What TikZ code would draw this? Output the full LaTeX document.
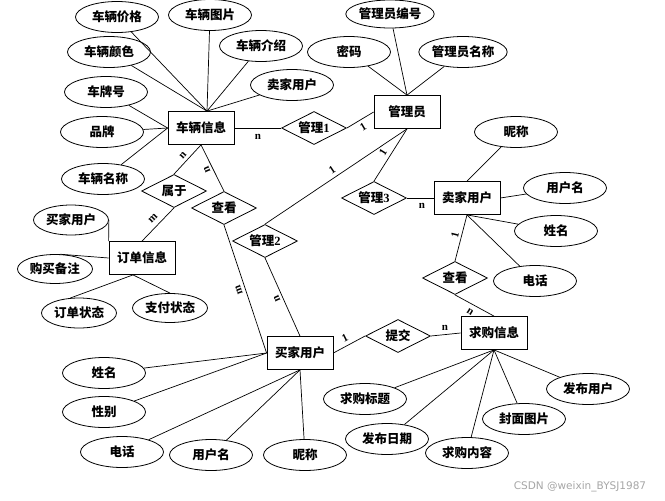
\documentclass[tikz,border=0pt]{standalone}
\usepackage{fontspec}
\setmainfont{Liberation Serif}
\newfontfamily\cjk{Noto Sans CJK SC}
\newfontfamily\wmfont{DejaVu Sans}
\usetikzlibrary{shapes.geometric}
\tikzset{
  ent/.style={draw, line width=0.8pt, rectangle, minimum width=66pt, minimum height=33pt, inner sep=0pt, font=\cjk\bfseries\fontsize{12.5}{14}\selectfont},
  rel/.style={draw, line width=0.8pt, diamond, aspect=2, minimum width=65pt, minimum height=33pt, inner sep=0pt, font=\cjk\bfseries\fontsize{12.5}{14}\selectfont},
  attr/.style={draw, line width=0.8pt, ellipse, minimum width=83pt, minimum height=31pt, inner sep=0pt, font=\cjk\bfseries\fontsize{12.5}{14}\selectfont},
  sattr/.style={attr, minimum width=75pt, minimum height=30pt},
  card/.style={font=\bfseries\fontsize{11}{12}\selectfont, inner sep=0pt},
  conn/.style={line width=0.7pt},
}
\begin{document}
\begin{tikzpicture}[x=1pt,y=-1pt]
\useasboundingbox (0,0) rectangle (665,501);
% entities
\node[ent] (clxx) at (201,128) {车辆信息};
\node[ent] (gly) at (407,112) {管理员};
\node[ent] (mjyh) at (467,198) {卖家用户};
\node[ent] (ddxx) at (142,258) {订单信息};
\node[ent] (bjyh) at (300,353) {买家用户};
\node[ent] (qgxx) at (494,333) {求购信息};
% relations
\node[rel] (gl1) at (314,128) {管理{\rmfamily 1}};
\node[rel] (sy) at (174,191) {属于};
\node[rel] (ckA) at (224,208) {查看};
\node[rel] (gl2) at (265,241) {管理{\rmfamily 2}};
\node[rel] (gl3) at (374,198) {管理{\rmfamily 3}};
\node[rel] (ckB) at (455,278) {查看};
\node[rel] (tj) at (398,336) {提交};
% attributes of 车辆信息
\node[attr] (a1) at (117,17) {车辆价格};
\node[attr] (a2) at (210,15) {车辆图片};
\node[attr] (a3) at (261,46) {车辆介绍};
\node[attr] (a4) at (109,52) {车辆颜色};
\node[attr] (a5) at (292,85) {卖家用户};
\node[attr] (a6) at (106,92) {车牌号};
\node[attr] (a7) at (102,132) {品牌};
\node[attr] (a8) at (103,179) {车辆名称};
% attributes of 管理员
\node[attr, minimum height=28pt] (b1) at (390,14) {管理员编号};
\node[attr] (b2) at (349,52) {密码};
\node[attr] (b3) at (463,52) {管理员名称};
% attributes of 卖家用户
\node[attr] (c1) at (516,132) {昵称};
\node[attr] (c2) at (565,188) {用户名};
\node[attr] (c3) at (556,231) {姓名};
\node[attr] (c4) at (535,281) {电话};
% attributes of 订单信息
\node[sattr] (d1) at (71,220) {买家用户};
\node[sattr, minimum height=29pt] (d2) at (55,269) {购买备注};
\node[sattr] (d3) at (79,313) {订单状态};
\node[sattr, minimum height=29pt] (d4) at (170,308) {支付状态};
% attributes of 买家用户
\node[attr] (e1) at (104,373) {姓名};
\node[attr] (e2) at (104,412) {性别};
\node[attr] (e3) at (122,452) {电话};
\node[attr] (e4) at (211,455) {用户名};
\node[attr] (e5) at (305,455) {昵称};
% attributes of 求购信息
\node[attr] (f1) at (365,399) {求购标题};
\node[attr] (f2) at (387,439) {发布日期};
\node[attr] (f3) at (467,453) {求购内容};
\node[attr] (f4) at (524,419) {封面图片};
\node[attr] (f5) at (588,389) {发布用户};
% junction points
\coordinate (clt) at ([xshift=6pt]clxx.north);
\coordinate (ddb) at ([xshift=-9pt]ddxx.south);
% connectors
\foreach \a in {a1,a2,a3,a4,a5} \draw[conn] (\a) -- (clt);
\foreach \a in {a6,a7,a8} \draw[conn] (\a) -- (clxx.west);
\foreach \a in {b1,b2,b3} \draw[conn] (\a) -- (gly.north);
\draw[conn] (c1) -- (mjyh.north);
\draw[conn] (c2) -- (mjyh.east);
\draw[conn] (c3) -- (mjyh.south);
\draw[conn] (c4) -- (mjyh.south);
\draw[conn] (d1.east) -- (ddxx.north west);
\draw[conn] (d2.70) -- (ddxx.west);
\draw[conn] (d3.120) -- (ddb);
\draw[conn] (d4.north) -- (ddb);
\draw[conn] (e1) -- (bjyh.west);
\draw[conn] (e2) -- (bjyh.west);
\foreach \a in {e3,e4,e5} \draw[conn] (\a) -- (bjyh.south);
\foreach \a in {f1,f2,f3,f4,f5} \draw[conn] (\a) -- (qgxx.south);
\draw[conn] (clxx.east) -- (gl1.west);
\draw[conn] (gl1.east) -- (gly.west);
\draw[conn] (gly.south) -- (gl3.north);
\draw[conn] (gly.south) -- (gl2.north);
\draw[conn] (gl3.east) -- (mjyh.west);
\draw[conn] (mjyh.south) -- (ckB.north);
\draw[conn] (ckB.south) -- (qgxx.north);
\draw[conn] (bjyh.east) -- (tj.west);
\draw[conn] (tj.east) -- (qgxx.west);
\draw[conn] (clxx.south) -- (sy.north);
\draw[conn] (clxx.south) -- (ckA.north);
\draw[conn] (sy.south) -- (ddxx.north);
\draw[conn] (ckA.south) -- (bjyh.west);
\draw[conn] (gl2.south) -- (bjyh.north);
% cardinalities
\node[card] (k1) at (258,137) {n};
\node[card, rotate=31] (k2) at (363,127) {1};
\node[card, rotate=58] (k3) at (383,152) {1};
\node[card, rotate=34] (k4) at (332,170) {1};
\node[card] (k5) at (422,206) {n};
\node[card, rotate=76] (k6) at (455,235) {1};
\node[card, rotate=-32] (k7) at (470,312) {n};
\node[card, rotate=27] (k8) at (345,338) {1};
\node[card] (k9) at (445,328) {n};
\node[card, rotate=48] (k10) at (183,155) {n};
\node[card, rotate=113] (k11) at (207,170) {n};
\node[card, rotate=45] (k12) at (153,218) {m};
\node[card, rotate=109] (k13) at (239,290) {m};
\node[card, rotate=114] (k14) at (277,299) {n};
% watermark
\node[font=\wmfont\fontsize{10.5}{12}\selectfont, text=black!35, inner sep=0pt] (wm) at (580,487) {CSDN @weixin\_BYSJ1987};
\end{tikzpicture}
\end{document}
